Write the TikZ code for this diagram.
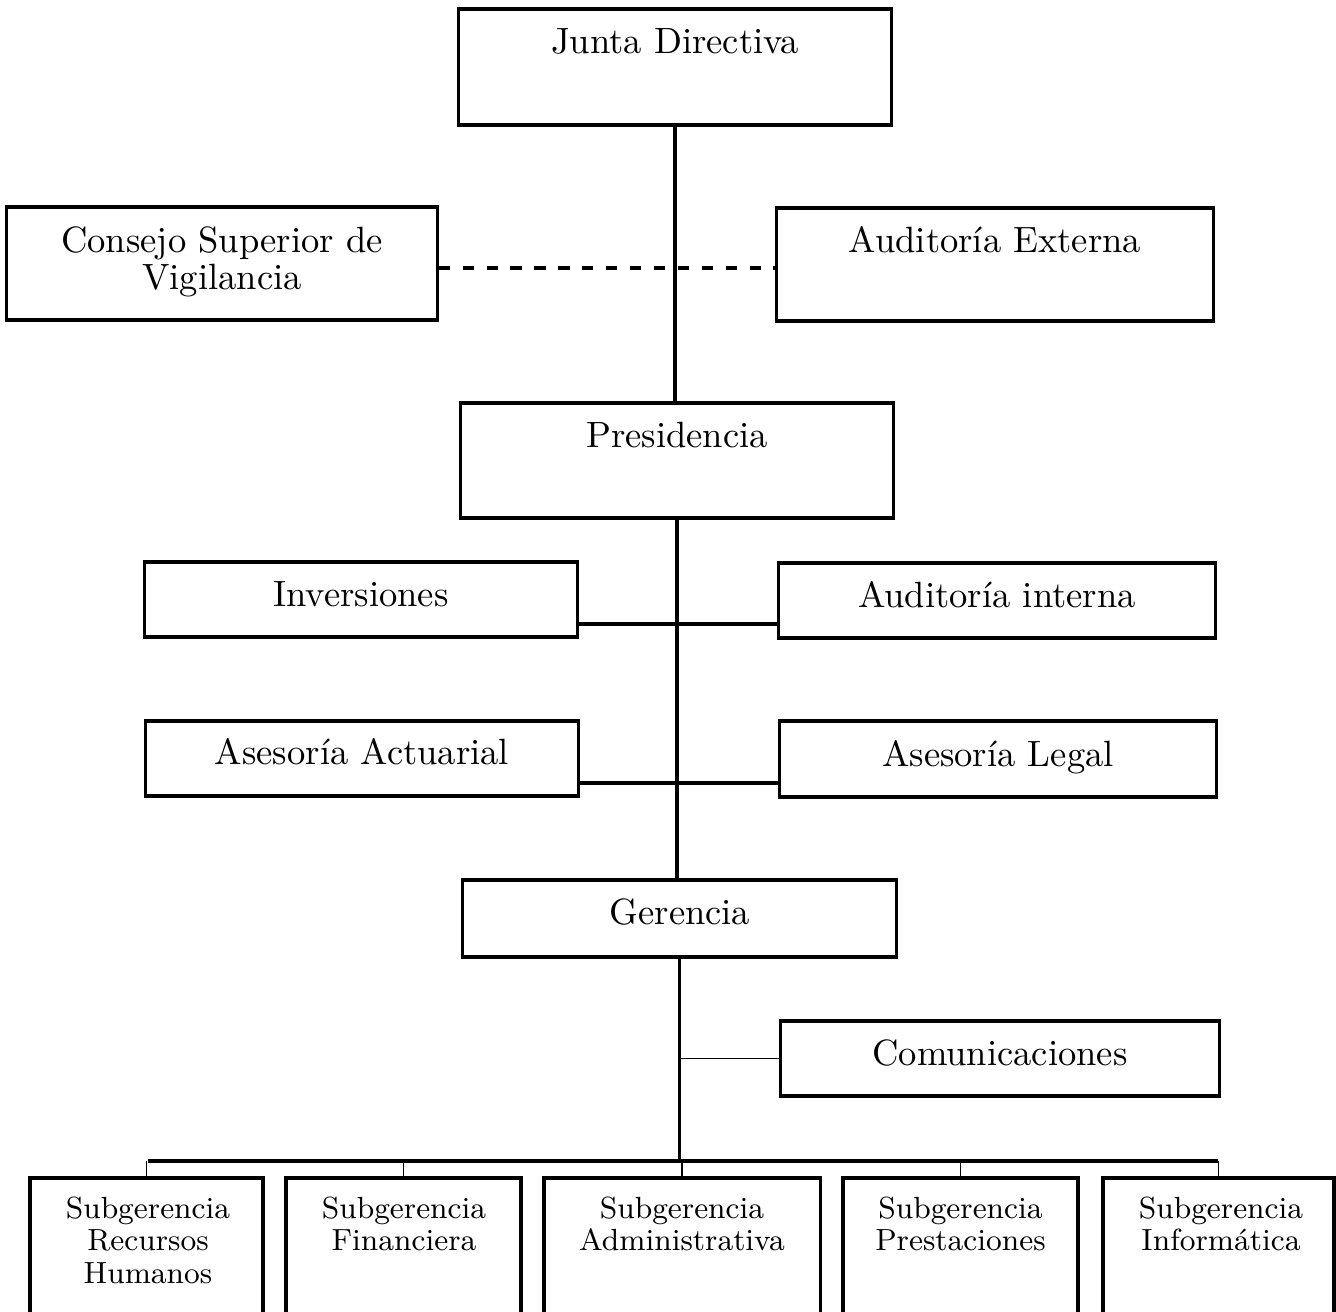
\documentclass[tikz,border=0pt]{standalone}
\usepackage{tikz}

\begin{document}
\begin{tikzpicture}[x=0.01cm, y=-0.01cm,
    box/.style={draw, line width=0.9pt, inner sep=0pt},
    lbl/.style={font=\fontsize{10.4}{10.5}\selectfont, align=center, inner sep=0pt},
    sublbl/.style={font=\fontsize{8.7}{9.2}\selectfont, align=center, inner sep=0pt, anchor=north},
    link/.style={line width=0.9pt},
    thinlink/.style={line width=0.55pt}]
    \path[use as bounding box] (0,0) rectangle (1336,1311);
    \clip (0,0) rectangle (1336,1311);

    % TOP: Junta Directiva
    \node[box, minimum width=4.32cm, minimum height=1.16cm] (junta) at (675,67) {};
    \node[lbl, anchor=base] (juntaT) at (675,53) {Junta Directiva};

    % CONTROL: Consejo / Auditoria Externa
    \node[box, minimum width=4.30cm, minimum height=1.13cm] (consejo) at (222,263.5) {};
    \node[lbl, anchor=north] (consejoT) at (222,226) {Consejo Superior de\\Vigilancia};
    \node[box, minimum width=4.36cm, minimum height=1.13cm] (extA) at (995,264.5) {};
    \node[lbl, anchor=base] (extAT) at (995,252) {Auditoría Externa};

    % MIDDLE: Presidencia and staff units
    \node[box, minimum width=4.32cm, minimum height=1.15cm] (pres) at (677,460.5) {};
    \node[lbl, anchor=base] (presT) at (677,447) {Presidencia};
    \node[box, minimum width=4.32cm, minimum height=0.75cm] (inv) at (361,599.5) {};
    \node[lbl, anchor=base] (invT) at (361,606) {Inversiones};
    \node[box, minimum width=4.36cm, minimum height=0.75cm] (intA) at (997,600.5) {};
    \node[lbl, anchor=base] (intAT) at (997,607) {Auditoría interna};
    \node[box, minimum width=4.32cm, minimum height=0.75cm] (act) at (362,758.5) {};
    \node[lbl, anchor=base] (actT) at (362,764) {Asesoría Actuarial};
    \node[box, minimum width=4.36cm, minimum height=0.76cm] (legal) at (998,759) {};
    \node[lbl, anchor=base] (legalT) at (998,766) {Asesoría Legal};

    % LOWER: Gerencia
    \node[box, minimum width=4.33cm, minimum height=0.77cm] (ger) at (679.5,918.5) {};
    \node[lbl, anchor=base] (gerT) at (680,924) {Gerencia};
    \node[box, minimum width=4.38cm, minimum height=0.75cm] (com) at (1000,1058.5) {};
    \node[lbl, anchor=base] (comT) at (1000,1065) {Comunicaciones};

    % BOTTOM: Subgerencias (cut by the page edge)
    \node[box, minimum width=2.33cm, minimum height=1.8cm] (s1) at (146.5,1268) {};
    \node[box, minimum width=2.35cm, minimum height=1.8cm] (s2) at (403.5,1268) {};
    \node[box, minimum width=2.76cm, minimum height=1.8cm] (s3) at (682,1268) {};
    \node[box, minimum width=2.35cm, minimum height=1.8cm] (s4) at (960.5,1268) {};
    \node[box, minimum width=2.31cm, minimum height=1.8cm] (s5) at (1218.5,1268) {};
    \node[sublbl] (s1T) at (148,1196) {Subgerencia\\Recursos\\Humanos};
    \node[sublbl] (s2T) at (404,1196) {Subgerencia\\Financiera};
    \node[sublbl] (s3T) at (682,1196) {Subgerencia\\Administrativa};
    \node[sublbl] (s4T) at (960.5,1196) {Subgerencia\\Prestaciones};
    \node[sublbl] (s5T) at (1221,1196) {Subgerencia\\Informática};

    % connectors
    \draw[link] (junta.south) -- (junta.south |- pres.north);
    \coordinate (consJ) at ([yshift=-0.045cm]consejo.east);
    \draw[link, dash pattern=on 3.2pt off 3.6pt] (consJ) -- (consJ -| extA.west);
    \draw[link] (pres.south) -- (pres.south |- ger.north);
    \coordinate (invJ) at ([yshift=-0.245cm]inv.east);
    \coordinate (actJ) at ([yshift=-0.245cm]act.east);
    \draw[link] (invJ) -- (invJ -| intA.west);
    \draw[link] (actJ) -- (actJ -| legal.west);
    \draw[thinlink] (com.west) -- (com.west -| ger.south);
    \coordinate (busL) at (148,1161);
    \coordinate (busR) at (1218,1161);
    \draw[link] (ger.south) -- (ger.south |- busL);
    \draw[link] (busL) -- (busR);
    \foreach \s in {s1,s2,s3,s4,s5}
        \draw[thinlink] (\s.north) -- (\s.north |- busL);
\end{tikzpicture}
\end{document}
